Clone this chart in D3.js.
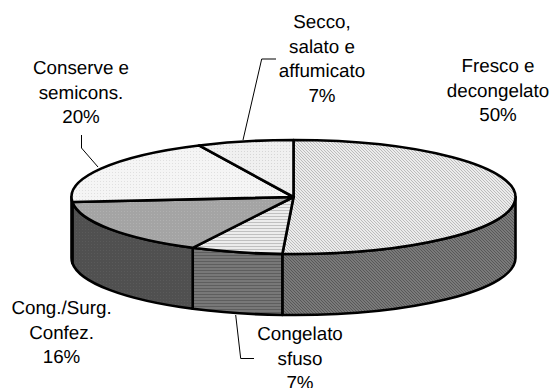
<!DOCTYPE html>
<html>
<head>
<meta charset="utf-8">
<script src="https://cdn.jsdelivr.net/npm/d3@7"></script>
<style>
  html, body { margin: 0; background: #fff; }
  svg { display: block; }
  text { font-family: "Liberation Sans", Arial, sans-serif; font-size: 18.8px; fill: #000; text-rendering: geometricPrecision; }
</style>
</head>
<body>
<div id="chart"></div>
<script>
var categories = ["Fresco e decongelato", "Congelato sfuso", "Cong./Surg. Confez.", "Conserve e semicons.", "Secco, salato e affumicato"];
var shares = [50.8, 6.7, 16.1, 19.4, 7.0];
var percentLabels = ["50%", "7%", "16%", "20%", "7%"];
var labelLines = [["Fresco e", "decongelato", "50%"], ["Congelato", "sfuso", "7%"], ["Cong./Surg.", "Confez.", "16%"], ["Conserve e", "semicons.", "20%"], ["Secco,", "salato e", "affumicato", "7%"]];
var labelAnchors = [[498, 72], [300, 340], [61.5, 314], [81, 74], [322, 28]];
var leaders = [null, [[235.7, 315], [240.7, 358.5], [254, 358.5]], null, [[98, 167], [81.5, 148], [81.5, 135]], [[243, 140], [261.7, 59], [276, 59]]];
var topBg = ["#ececec", "#ececec", "#a4a4a4", "#f5f5f5", "#f0f0f0"];
var topInk = ["#bcbcbc", "#c0c0c0", "#b0b0b0", "#e0e0e0", "#d6d6d6"];
var sideBg = ["#7a7a7a", "#787878", "#505050", "#505050", "#505050"];
var sideInk = ["#585858", "#5e5e5e", "#5a5a5a", "#5a5a5a", "#5a5a5a"];

var width = 551, height = 388;
var cx = 293.5, cy = 197, rx = 222, ry = 57, depth = 61;

var svg = d3.select("#chart").append("svg")
    .attr("width", width).attr("height", height);

// little dither tiles, stands in for the old office fill patterns
var tiles = [
    {w: 3, h: 3, d: "M0 0h1v1H0zM1 1h1v1H1zM2 2h1v1H2z"},
    {w: 2, h: 3, d: "M0 0h2v1H0z"},
    {w: 3, h: 3, d: "M1 1h1v1H1z"},
    {w: 3, h: 3, d: "M1 1h1v1H1z"},
    {w: 3, h: 3, d: "M1 1h1v1H1z"}
];
var defs = svg.append("defs");
function patternFor(id, i, bg, ink) {
    var p = defs.append("pattern").attr("id", id)
        .attr("patternUnits", "userSpaceOnUse").attr("width", tiles[i].w).attr("height", tiles[i].h);
    p.append("rect").attr("width", tiles[i].w).attr("height", tiles[i].h).attr("fill", bg);
    p.append("path").attr("d", tiles[i].d).attr("fill", ink);
    return "url(#" + id + ")";
}

var pie = d3.pie().sort(null).value(function(d) { return d; });
var slices = pie(shares);

function px(a) { return cx + rx * Math.sin(a); }
function py(a) { return cy - ry * Math.cos(a); }

function topPath(s) {
    var large = s.endAngle - s.startAngle > Math.PI ? 1 : 0;
    return "M" + cx + "," + cy + "L" + px(s.startAngle) + "," + py(s.startAngle) +
        "A" + rx + "," + ry + " 0 " + large + " 1 " + px(s.endAngle) + "," + py(s.endAngle) + "Z";
}

function sidePath(a0, a1) {
    return "M" + px(a0) + "," + py(a0) +
        "A" + rx + "," + ry + " 0 0 1 " + px(a1) + "," + py(a1) +
        "L" + px(a1) + "," + (py(a1) + depth) +
        "A" + rx + "," + ry + " 0 0 0 " + px(a0) + "," + (py(a0) + depth) + "Z";
}

// only the front half of the rim can be seen
var g = svg.append("g").attr("stroke", "#000").attr("stroke-width", 2.6).attr("stroke-linejoin", "round");
slices.forEach(function(s, i) {
    var a0 = Math.max(s.startAngle, Math.PI / 2);
    var a1 = Math.min(s.endAngle, Math.PI * 1.5);
    if (a1 > a0) {
        g.append("path").attr("d", sidePath(a0, a1)).attr("fill", patternFor("side" + i, i, sideBg[i], sideInk[i]));
    }
});
slices.forEach(function(s, i) {
    g.append("path").attr("d", topPath(s)).attr("fill", patternFor("top" + i, i, topBg[i], topInk[i]));
});

var line = d3.line();
leaders.forEach(function(l) {
    if (!l) return;
    svg.append("path").attr("d", line(l)).attr("fill", "none").attr("stroke", "#000").attr("stroke-width", 1);
});

labelLines.forEach(function(lines, i) {
    var t = svg.append("text").attr("text-anchor", "middle").attr("aria-label", categories[i] + " " + percentLabels[i]);
    lines.forEach(function(d, j) {
        t.append("tspan").attr("x", labelAnchors[i][0]).attr("y", labelAnchors[i][1] + j * 24.6).text(d);
    });
});
</script>
</body>
</html>
